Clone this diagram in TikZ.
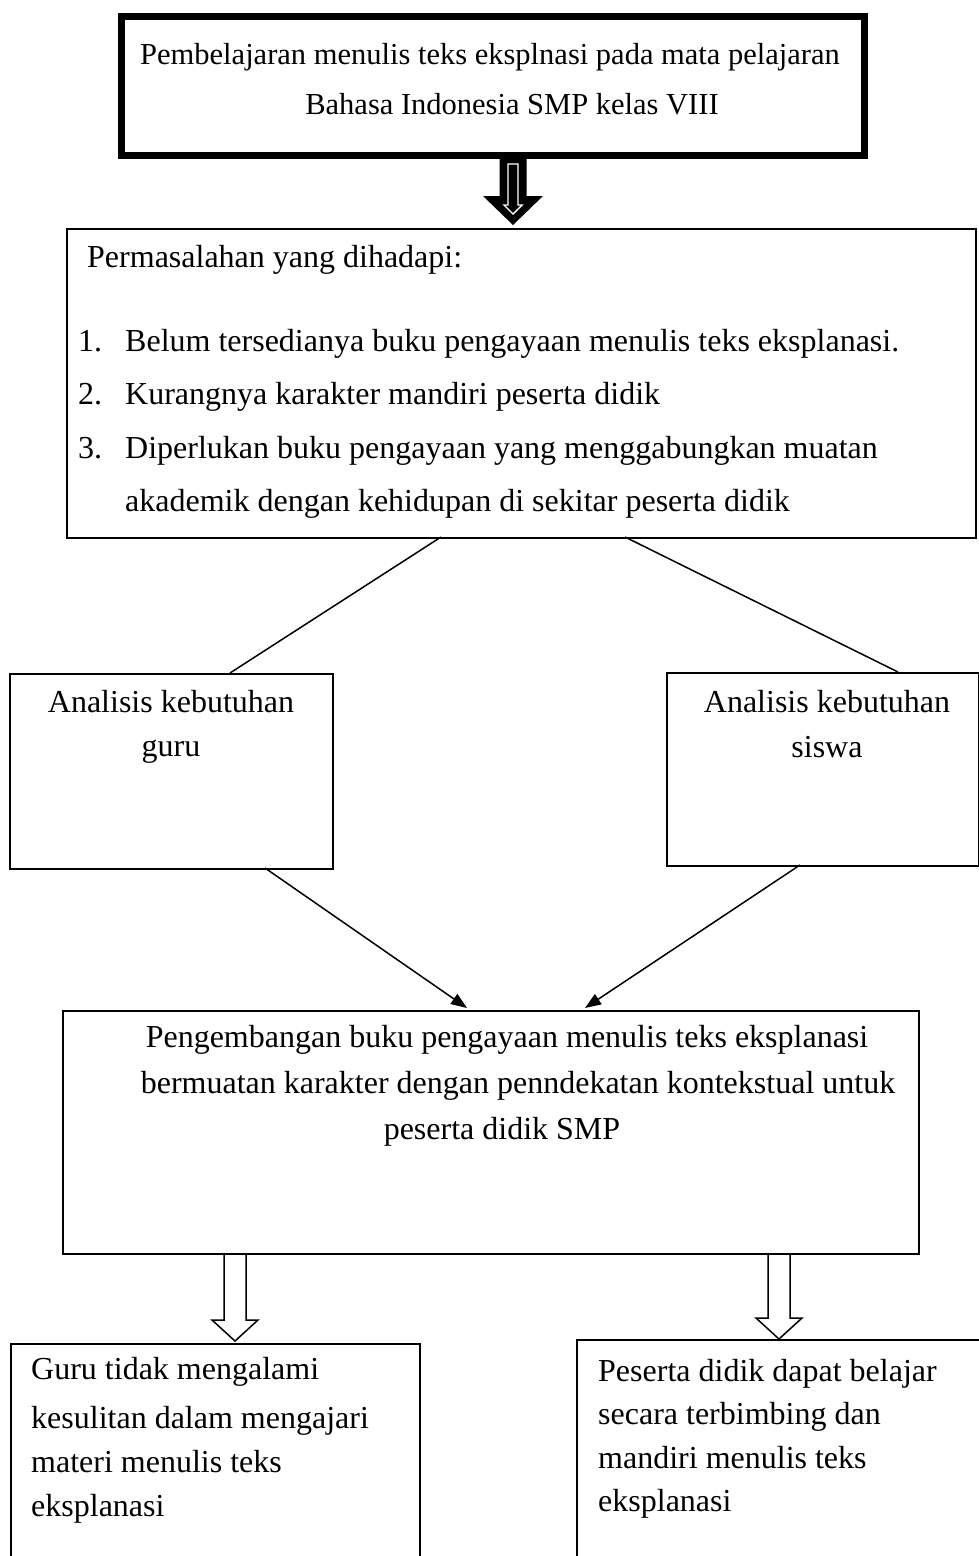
\documentclass[tikz,border=0pt]{standalone}
\usepackage{fontspec}
\setmainfont{Liberation Serif}
\usetikzlibrary{arrows.meta}
\begin{document}
\begin{tikzpicture}[x=1pt,y=-1pt,
  box/.style={draw, line width=1.5pt, inner sep=0pt, anchor=north west},
  txt/.style={inner sep=0pt, font=\fontsize{32}{38}\selectfont},
  ttxt/.style={inner sep=0pt, font=\fontsize{30.5}{37}\selectfont, anchor=base},
  tl/.style={txt, anchor=base west},
  tc/.style={txt, anchor=base},
  conn/.style={line width=1.5pt},
  arr/.style={line width=1.5pt, -{Triangle[length=16pt,width=12pt]}},
  hollow/.style={draw, line width=1.5pt, fill=white, line join=miter}]
\useasboundingbox (0,0) rectangle (979,1556);
\clip (0,0) rectangle (979,1556);

% top box
\node[box, line width=7pt, minimum width=743pt, minimum height=139pt] (top) at (117.5,12.5) {};
\node[ttxt] (t1) at (490,64) {Pembelajaran menulis teks eksplnasi pada mata pelajaran};
\node[ttxt] (t2) at (512,114) {Bahasa Indonesia SMP kelas VIII};

% black arrow
\coordinate (ba) at (513,155);
\begin{scope}[shift={(ba)}]
  \fill[black] (-13.5,0) -- (13.5,0) -- (13.5,41) -- (30,41) -- (0,70) -- (-30,41) -- (-13.5,41) -- cycle;
  \draw[white, line width=1.4pt] (-5,9) -- (5,9) -- (5,50) -- (9,50) -- (0,59) -- (-9,50) -- (-5,50) -- cycle;
\end{scope}

% problems box
\node[box, minimum width=909pt, minimum height=309pt] (perm) at (66,228) {};
\node[tl] (ph) at (87,267) {Permasalahan yang dihadapi:};
\node[tl] (n1) at (78,351) {1.};
\node[tl] (p1) at (125,351) {Belum tersedianya buku pengayaan menulis teks eksplanasi.};
\node[tl] (n2) at (78,404) {2.};
\node[tl] (p2) at (125,404) {Kurangnya karakter mandiri peserta didik};
\node[tl] (n3) at (78,458) {3.};
\node[tl] (p3) at (125,458) {Diperlukan buku pengayaan yang menggabungkan muatan};
\node[tl] (p4) at (125,511) {akademik dengan kehidupan di sekitar peserta didik};

% analysis boxes
\node[box, minimum width=323pt, minimum height=195pt] (ag) at (9,673) {};
\node[tc] (ag1) at (171,712) {Analisis kebutuhan};
\node[tc] (ag2) at (171,756) {guru};
\node[box, minimum width=312pt, minimum height=193pt] (as) at (666,672) {};
\node[tc] (as1) at (827,712) {Analisis kebutuhan};
\node[tc] (as2) at (827,757) {siswa};

\coordinate (pl) at (441,537);
\coordinate (pr) at (625,537);
\coordinate (agt) at (230,673);
\coordinate (ast) at (898,672);
\draw[conn] (pl) -- (agt);
\draw[conn] (pr) -- (ast);

% development box
\node[box, minimum width=856pt, minimum height=243pt] (dev) at (62,1010) {};
\node[tc] (d1) at (507,1047) {Pengembangan buku pengayaan menulis teks eksplanasi};
\node[tc] (d2) at (518,1093) {bermuatan karakter dengan penndekatan kontekstual untuk};
\node[tc] (d3) at (502,1139) {peserta didik SMP};

\coordinate (agb) at (265,868);
\coordinate (asb) at (800,865);
\coordinate (dl) at (467,1008);
\coordinate (dr) at (585,1008);
\draw[arr] (agb) -- (dl);
\draw[arr] (asb) -- (dr);

% outcome boxes (open at the page edge)
\node[box, minimum width=409pt, minimum height=260pt] (og) at (10,1343) {};
\node[tl] (og1) at (31,1379) {Guru tidak mengalami};
\node[tl] (og2) at (31,1428) {kesulitan dalam mengajari};
\node[tl] (og3) at (31,1472) {materi menulis teks};
\node[tl] (og4) at (31,1516) {eksplanasi};
\node[box, minimum width=450pt, minimum height=260pt] (os) at (576,1339) {};
\node[tl] (os1) at (598,1381) {Peserta didik dapat belajar};
\node[tl] (os2) at (598,1424) {secara terbimbing dan};
\node[tl] (os3) at (598,1468) {mandiri menulis teks};
\node[tl] (os4) at (598,1511) {eksplanasi};

% hollow arrows
\coordinate (hl) at (235,1254);
\coordinate (hr) at (779,1254);
\draw[hollow] (hl) ++(-11,0) -- ++(22,0) -- ++(0,66) -- ++(12,0) -- (235,1341) -- (212,1320) -- (224,1320) -- cycle;
\draw[hollow] (hr) ++(-11,0) -- ++(22,0) -- ++(0,64) -- ++(12,0) -- (779,1339) -- (756,1318) -- (768,1318) -- cycle;
\end{tikzpicture}
\end{document}
